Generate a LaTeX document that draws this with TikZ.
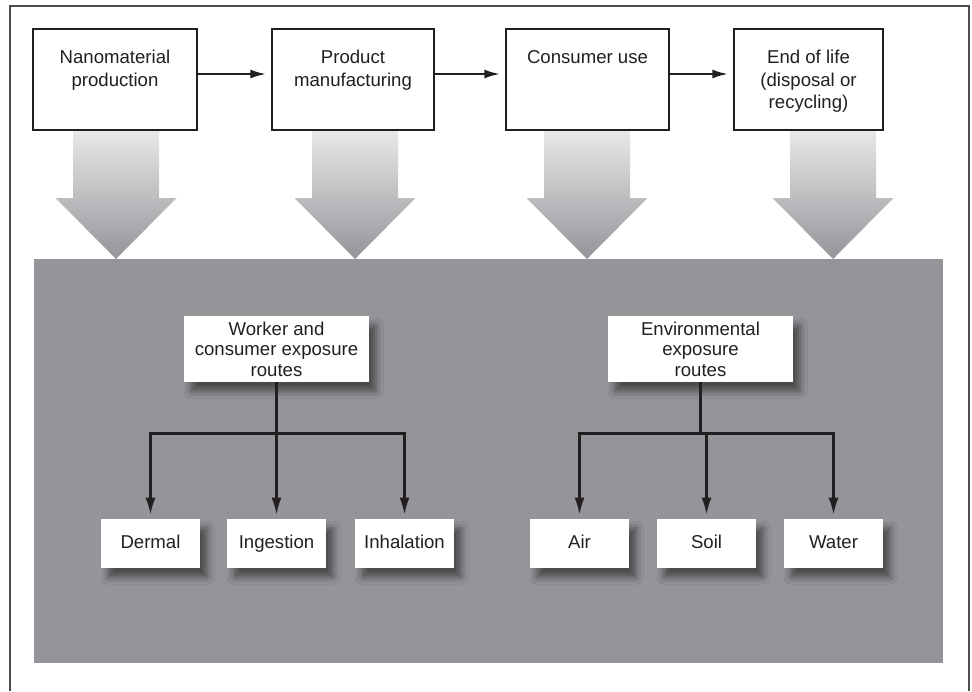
\documentclass[tikz,border=0pt]{standalone}
\usepackage{fontspec}
\setmainfont{Liberation Sans}
\usepackage{tikz}
\usetikzlibrary{shapes,arrows.meta,positioning,fit,shadows.blur}
\definecolor{ink}{HTML}{231F20}
\definecolor{panelgray}{HTML}{939598}
\definecolor{arrowtop}{HTML}{E8E9EA}
\definecolor{framegray}{HTML}{4D4D4D}
\tikzstyle{stage} = [draw=ink,line width=0.7pt,fill=white,rectangle,inner sep=0,minimum height=50.5pt]
\tikzstyle{stagetext} = [inner sep=0,align=center,text=ink,font=\fontsize{9.3}{11.25}\selectfont]
\tikzstyle{route} = [fill=white,rectangle,inner sep=0,align=center,text=ink,font=\fontsize{9.3}{10.25}\selectfont,
  blur shadow={shadow xshift=3.5pt,shadow yshift=-4.5pt,shadow blur radius=3.5pt,shadow opacity=50}]
\tikzstyle{leaf} = [route,minimum width=49.5pt,minimum height=24.5pt,text height=6.7pt,text depth=1.5pt]
\tikzstyle{flow} = [-{Latex[length=8pt,width=4.5pt]},line width=1.2pt,color=ink]
\tikzstyle{branch} = [-{Latex[length=8.5pt,width=5pt]},line width=1.1pt,color=ink]
\tikzstyle{bigarrow} = [top color=arrowtop,bottom color=panelgray]
\def \gap {2.5pt}
\def \lift {2.75pt}

\begin{document}
\begin{tikzpicture}[x=0.5pt,y=-0.5pt]
      \useasboundingbox (0,0) rectangle (972,691);
      \draw[framegray,line width=1pt] (10,691) -- (10,6) -- (969,6) -- (969,691);
      \fill[panelgray] (34,259) rectangle (943,663);
      % shaded arrows into the panel
      \foreach \cx in {116,355,587,833}
        \shade[bigarrow] ({\cx-43},130) -- ({\cx+43},130) -- ({\cx+43},198) -- ({\cx+60.5},198)
          -- (\cx,259) -- ({\cx-60.5},198) -- ({\cx-43},198) -- cycle;
      % life cycle stages
      \node[stage,minimum width=82pt] (prod) at (115,79.5) {};
      \node[stage,minimum width=81pt] (manu) at (353,79.5) {};
      \node[stage,minimum width=81.5pt] (use) at (587.5,79.5) {};
      \node[stage,minimum width=74.5pt] (eol) at (808.5,79.5) {};
      \node[stagetext,below=10.8pt of prod.north] (prodt) {Nanomaterial\\production};
      \node[stagetext,below=10.8pt of manu.north] (manut) {Product\\manufacturing};
      \node[stagetext,below=10.8pt of use.north] (uset) {Consumer use};
      \node[stagetext,below=10.8pt of eol.north] (eolt) {End of life\\(disposal or\\recycling)};
      \draw[flow,shorten >=\gap] ([yshift=\lift]prod.east) -- ([yshift=\lift]manu.west);
      \draw[flow,shorten >=\gap] ([yshift=\lift]manu.east) -- ([yshift=\lift]use.west);
      \draw[flow,shorten >=\gap] ([yshift=\lift]use.east) -- ([yshift=\lift]eol.west);
      % exposure routes
      \node[route,minimum width=92.5pt,minimum height=33pt] (worker) at (276.5,349) {Worker and\\consumer exposure\\routes};
      \node[route,minimum width=92.5pt,minimum height=33pt] (env) at (700.5,349) {Environmental\\exposure\\routes};
      \node[leaf] (dermal) at (150.5,543.5) {Dermal};
      \node[leaf] (ingest) at (276.5,543.5) {Ingestion};
      \node[leaf] (inhal) at (404.5,543.5) {Inhalation};
      \node[leaf] (air) at (579.5,543.5) {Air};
      \node[leaf] (soil) at (706.5,543.5) {Soil};
      \node[leaf] (water) at (833.5,543.5) {Water};
      \foreach \t in {dermal,ingest,inhal}
        \draw[branch,shorten >=2pt] (worker.south) -- ++(0,51) -| (\t.north);
      \foreach \t in {air,soil,water}
        \draw[branch,shorten >=2pt] (env.south) -- ++(0,51) -| (\t.north);
    \end{tikzpicture}
\end{document}
